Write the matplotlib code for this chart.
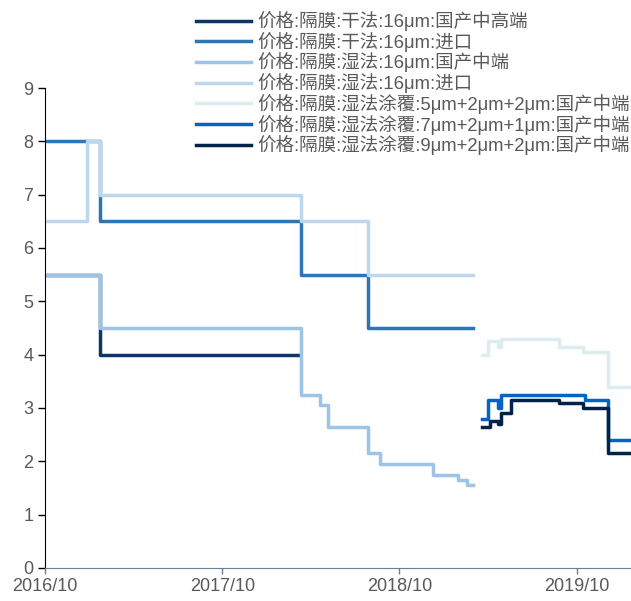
import matplotlib
matplotlib.use("Agg")
import matplotlib.pyplot as plt
import matplotlib.dates as mdates
import pandas as pd

plt.rcParams['font.family'] = ['Liberation Sans', 'Noto Sans CJK SC', 'DejaVu Sans']

# price change points (date, price) for each separator grade; last point closes the final step
dry_dom_dates = ['2016-10-01', '2017-01-22', '2018-03-10']
dry_dom_vals = [5.5, 4.0, 4.0]

dry_imp_dates = ['2016-10-01', '2017-01-22', '2018-03-12', '2018-07-28', '2019-03-02']
dry_imp_vals = [8.0, 6.5, 5.5, 4.5, 4.5]

wet_dom_dates = ['2016-10-01', '2017-01-22', '2018-03-12', '2018-04-20', '2018-05-07',
                 '2018-07-28', '2018-08-21', '2018-12-09', '2019-01-30', '2019-02-18',
                 '2019-03-02']
wet_dom_vals = [5.5, 4.5, 3.25, 3.05, 2.65, 2.15, 1.95, 1.75, 1.65, 1.55, 1.55]

wet_imp_dates = ['2016-10-01', '2016-12-26', '2017-01-22', '2018-03-12', '2018-07-28',
                 '2019-03-02']
wet_imp_vals = [6.5, 8.0, 7.0, 6.5, 5.5, 5.5]

ct522_dates = ['2019-03-21', '2019-04-01', '2019-04-23', '2019-04-29', '2019-08-26',
               '2019-10-15', '2019-12-04', '2020-01-21']
ct522_vals = [4.0, 4.25, 4.15, 4.3, 4.15, 4.05, 3.4, 3.4]

ct721_dates = ['2019-03-21', '2019-04-01', '2019-04-23', '2019-04-29', '2019-10-19',
               '2019-12-04', '2020-01-21']
ct721_vals = [2.8, 3.15, 3.0, 3.25, 3.15, 2.4, 2.4]

ct922_dates = ['2019-03-21', '2019-04-05', '2019-04-23', '2019-04-29', '2019-05-18',
               '2019-08-26', '2019-10-15', '2019-12-04', '2020-01-21']
ct922_vals = [2.65, 2.75, 2.7, 2.9, 3.15, 3.1, 3.0, 2.15, 2.15]

labels = [
    '价格:隔膜:干法:16μm:国产中高端',
    '价格:隔膜:干法:16μm:进口',
    '价格:隔膜:湿法:16μm:国产中端',
    '价格:隔膜:湿法:16μm:进口',
    '价格:隔膜:湿法涂覆:5μm+2μm+2μm:国产中端',
    '价格:隔膜:湿法涂覆:7μm+2μm+1μm:国产中端',
    '价格:隔膜:湿法涂覆:9μm+2μm+2μm:国产中端',
]
colors = ['#0c3665', '#2e75b6', '#9dc3e6', '#bdd7ee', '#dcedf0', '#0563c1', '#00234a']

series = [
    (dry_dom_dates, dry_dom_vals),
    (dry_imp_dates, dry_imp_vals),
    (wet_dom_dates, wet_dom_vals),
    (wet_imp_dates, wet_imp_vals),
    (ct522_dates, ct522_vals),
    (ct721_dates, ct721_vals),
    (ct922_dates, ct922_vals),
]

fig = plt.figure(figsize=(6.31, 6.01), dpi=100)
ax = fig.add_axes([45 / 631, 1 - 568 / 601, 1 - 45 / 631, (568 - 88) / 601])

for (d, v), lab, c in zip(series, labels, colors):
    ax.plot(pd.to_datetime(d), v, drawstyle='steps-post', color=c, lw=2.5, label=lab)

ax.set_ylim(0, 9)
ax.set_yticks(range(10))
ax.set_xlim(pd.Timestamp('2016-10-01'), pd.Timestamp('2020-01-21'))
ax.set_xticks(pd.to_datetime(['2016-10-01', '2017-10-01', '2018-10-01', '2019-10-01']))
ax.xaxis.set_major_formatter(mdates.DateFormatter('%Y/%m'))

for s in ['top', 'right']:
    ax.spines[s].set_visible(False)
ax.spines['left'].set_color('black')
ax.spines['bottom'].set_color('#6b7f99')
ax.tick_params(axis='y', colors='black', labelcolor='#595959', labelsize=13, length=5, width=1)
ax.tick_params(axis='x', colors='#6b7f99', labelcolor='#595959', labelsize=13, length=4, width=1)

fig.legend(loc='upper left', bbox_to_anchor=(196 / 631, 1 - 11 / 601), frameon=False,
           fontsize=13.3, handlelength=3.0, handletextpad=0.3, labelspacing=0.04,
           borderpad=0, borderaxespad=0, labelcolor='#595959')

fig.savefig('out.png', dpi=100)
